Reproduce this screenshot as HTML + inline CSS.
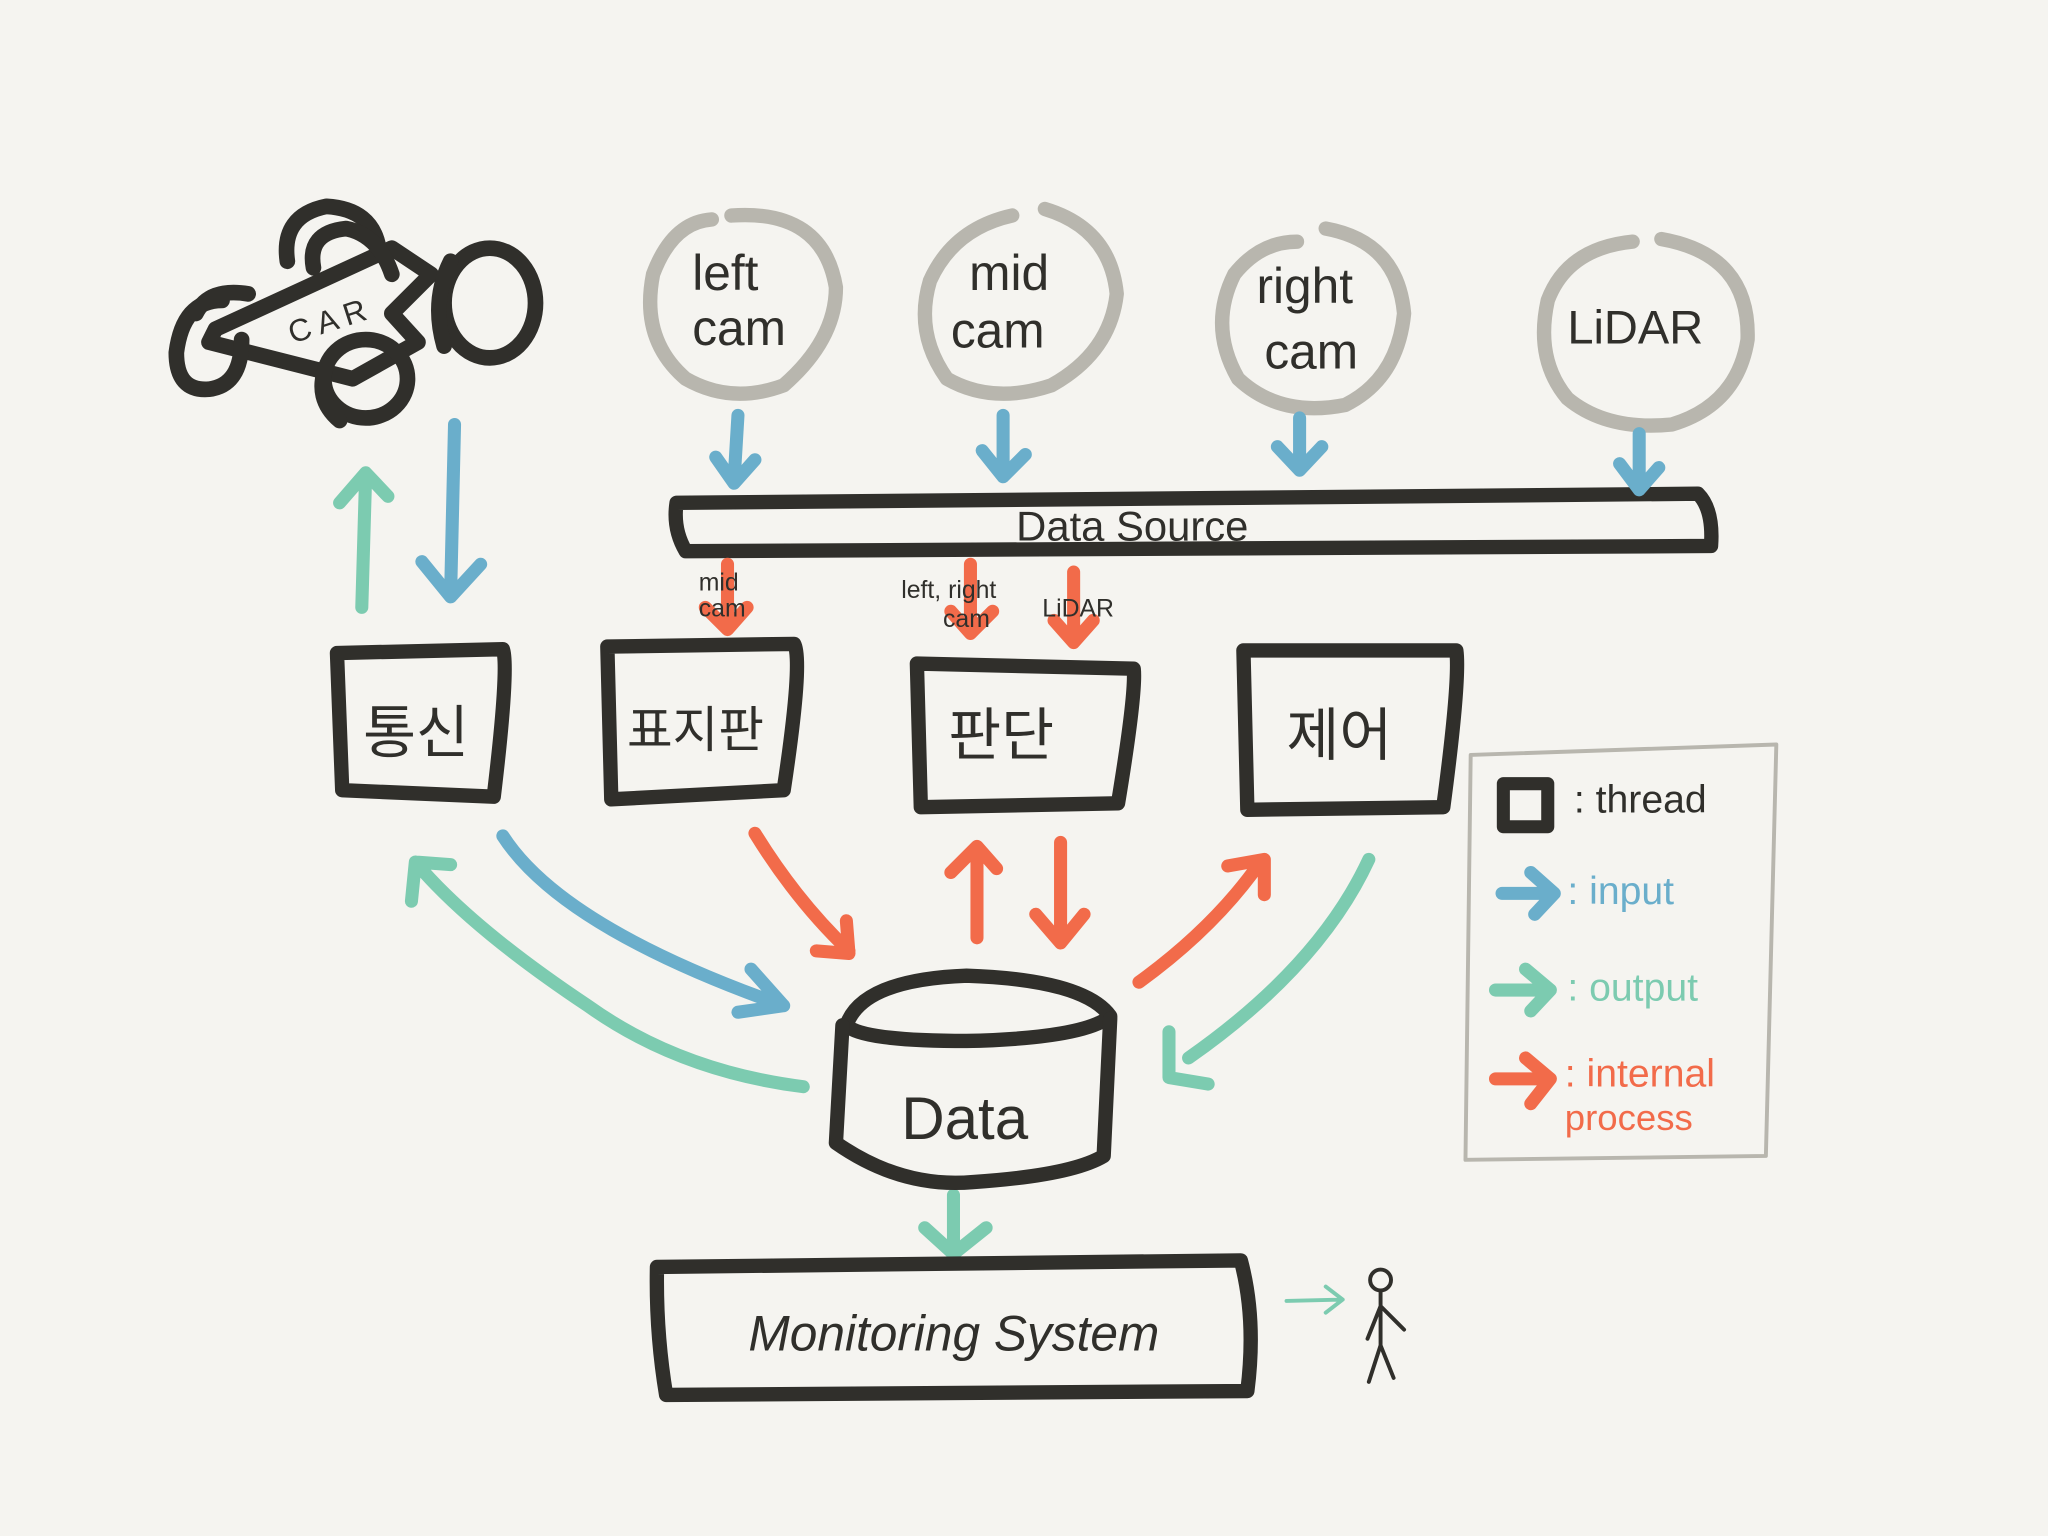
<!DOCTYPE html>
<html><head><meta charset="utf-8"><style>
html,body{margin:0;padding:0;background:#f5f4f0;}
svg{display:block;}
text{font-family:"Liberation Sans","Noto Sans CJK KR",sans-serif;}
</style></head><body>
<svg width="2048" height="1536" viewBox="0 0 1568 1176" xmlns="http://www.w3.org/2000/svg">
<rect width="1568" height="1176" fill="#f5f4f0"/>
<g fill="none" stroke-linecap="round" stroke-linejoin="round">
<!-- CAR -->
<g stroke="#302f2b" stroke-width="12">
<path d="M165 252 L300 190 L330 210 L300 240 L320 262 L270 290 L160 262 Z"/>
<path d="M170 230 Q140 230 135 270 Q135 300 160 298 Q185 295 185 260"/>
<path d="M150 240 Q160 220 190 225"/>
<path d="M220 200 Q215 165 250 158 Q285 160 290 190"/>
<path d="M240 205 Q235 178 265 175 Q290 180 300 210"/>
<ellipse cx="375" cy="232" rx="35" ry="42"/>
<path d="M345 200 Q330 230 340 265"/>
<ellipse cx="280" cy="290" rx="32" ry="30"/>
<path d="M250 280 Q240 305 260 322"/>
</g>
<text x="218" y="254" font-size="24" fill="#302f2b" stroke="none" transform="rotate(-18 250 240)">C A R</text>
<!-- camera circles -->
<g stroke="#b8b6ae" stroke-width="11">
<path d="M560 165 Q630 160 640 220 Q640 260 600 295 Q560 310 525 290 Q490 260 500 210 Q515 170 545 168"/>
<path d="M800 160 Q850 175 855 225 Q850 270 805 295 Q760 310 725 290 Q700 255 712 215 Q730 175 775 165"/>
<path d="M1015 175 Q1070 185 1075 240 Q1070 290 1030 310 Q980 320 948 290 Q925 250 945 210 Q965 185 993 185"/>
<path d="M1272 183 Q1340 195 1338 260 Q1330 310 1280 325 Q1230 330 1200 305 Q1175 275 1185 230 Q1200 190 1250 185"/>
</g>
<g fill="#302f2b" stroke="none" font-size="38">
<text x="530" y="222">left</text><text x="530" y="264">cam</text>
<text x="742" y="222">mid</text><text x="728" y="266">cam</text>
<text x="962" y="232">right</text><text x="968" y="282">cam</text>
<text x="1200" y="263" font-size="36">LiDAR</text>
</g>
<!-- Data Source -->
<path d="M518 385 L1300 378 Q1312 390 1310 418 L525 422 Q515 405 518 385 Z" stroke="#302f2b" stroke-width="11"/>
<text x="778" y="414" font-size="32" fill="#302f2b" stroke="none">Data  Source</text>
<!-- input arrows blue -->
<g stroke="#6aaecb" stroke-width="10">
<path d="M565 318 L562 368 M548 350 L562 370 L578 352"/>
<path d="M768 318 L768 362 M752 345 L768 365 L785 348"/>
<path d="M995 320 L995 355 M978 342 L995 360 L1012 342"/>
<path d="M1255 332 L1255 372 M1240 355 L1255 375 L1270 358"/>
<path d="M348 325 L345 455 M323 430 L345 457 L368 432"/>
<path d="M385 640 Q430 710 600 770 M575 742 L600 770 L565 775"/>
</g>
<!-- output green -->
<g stroke="#7ccbb0" stroke-width="10">
<path d="M277 465 L280 362 M260 385 L280 362 L297 380"/>
<path d="M615 832 Q520 820 450 770 Q360 710 318 660 M315 690 L318 660 L345 662"/>
<path d="M1048 658 Q1010 740 910 810 M895 790 L895 825 L925 830"/>
<path d="M730 915 L730 958 M708 940 L730 960 L755 940"/>
</g>
<path d="M985 996 L1028 995 M1015 985 L1028 995 L1015 1005" stroke="#7ccbb0" stroke-width="3"/>
<!-- internal orange -->
<g stroke="#f26b4a" stroke-width="10">
<path d="M557 432 L557 480 M540 465 L557 482 L572 465"/>
<path d="M743 432 L743 482 M728 468 L743 485 L760 468"/>
<path d="M822 438 L822 490 M807 475 L822 492 L837 475"/>
<path d="M578 638 Q610 690 650 728 M648 705 L650 730 L625 728"/>
<path d="M748 718 L748 650 M728 668 L748 648 L763 665"/>
<path d="M812 645 L812 718 M793 700 L812 722 L830 700"/>
<path d="M872 752 Q930 710 965 660 M940 663 L968 658 L968 685"/>
</g>
<g fill="#302f2b" stroke="none" font-size="19">
<text x="535" y="452">mid</text><text x="535" y="472">cam</text>
<text x="690" y="458">left, right</text><text x="722" y="480">cam</text>
<text x="798" y="472">LiDAR</text>
</g>
<!-- threads -->
<g stroke="#302f2b" stroke-width="11">
<path d="M258 500 L385 497 Q390 510 378 610 L262 605 Z"/>
<path d="M465 495 L608 493 Q615 505 600 605 L468 612 Z"/>
<path d="M702 508 L868 512 Q870 530 856 615 L705 618 Z"/>
<path d="M952 498 L1115 498 Q1118 520 1105 618 L955 620 Z"/>
</g>
<g fill="#302f2b" stroke="none" font-size="44">
<text x="278" y="576">통신</text>
<text x="480" y="572" font-size="38">표지판</text>
<text x="726" y="578">판단</text>
<text x="985" y="578">제어</text>
</g>
<!-- Data cylinder -->
<g stroke="#302f2b" stroke-width="11">
<path d="M648 785 Q660 750 740 747 Q830 750 850 778 Q830 795 740 797 Q660 797 648 785 Z"/>
<path d="M645 785 L640 875 Q690 910 745 905 Q820 900 845 885 L850 780"/>
</g>
<text x="690" y="872" font-size="46" fill="#302f2b" stroke="none">Data</text>
<!-- Monitoring -->
<path d="M503 970 L950 965 Q962 1010 955 1065 L510 1068 Q502 1020 503 970 Z" stroke="#302f2b" stroke-width="11"/>
<text x="573" y="1034" font-size="38" fill="#302f2b" stroke="none" font-style="italic">Monitoring System</text>
<!-- figure -->
<g stroke="#302f2b" stroke-width="3">
<circle cx="1057" cy="980" r="8"/>
<path d="M1057 988 L1057 1030 M1057 1030 L1048 1058 M1057 1030 L1067 1055 M1057 1000 L1047 1025 M1057 1000 L1075 1018"/>
</g>
<!-- legend -->
<path d="M1126 578 L1360 570 L1352 885 L1122 888 Z" stroke="#b8b6ae" stroke-width="3"/>
<rect x="1151" y="600" width="34" height="33" stroke="#302f2b" stroke-width="10"/>
<text x="1205" y="622" font-size="30" fill="#302f2b" stroke="none">: thread</text>
<path d="M1150 684 L1188 684 M1172 668 L1190 684 L1175 700" stroke="#6aaecb" stroke-width="10"/>
<text x="1200" y="692" font-size="30" fill="#6aaecb" stroke="none">: input</text>
<path d="M1145 758 L1185 758 M1168 742 L1187 758 L1172 774" stroke="#7ccbb0" stroke-width="10"/>
<text x="1200" y="766" font-size="30" fill="#7ccbb0" stroke="none">: output</text>
<path d="M1145 826 L1185 826 M1168 810 L1187 826 L1172 845" stroke="#f26b4a" stroke-width="10"/>
<text x="1198" y="832" font-size="30" fill="#f26b4a" stroke="none">: internal</text>
<text x="1198" y="865" font-size="28" fill="#f26b4a" stroke="none">process</text>
</g>
</svg>
</body></html>
